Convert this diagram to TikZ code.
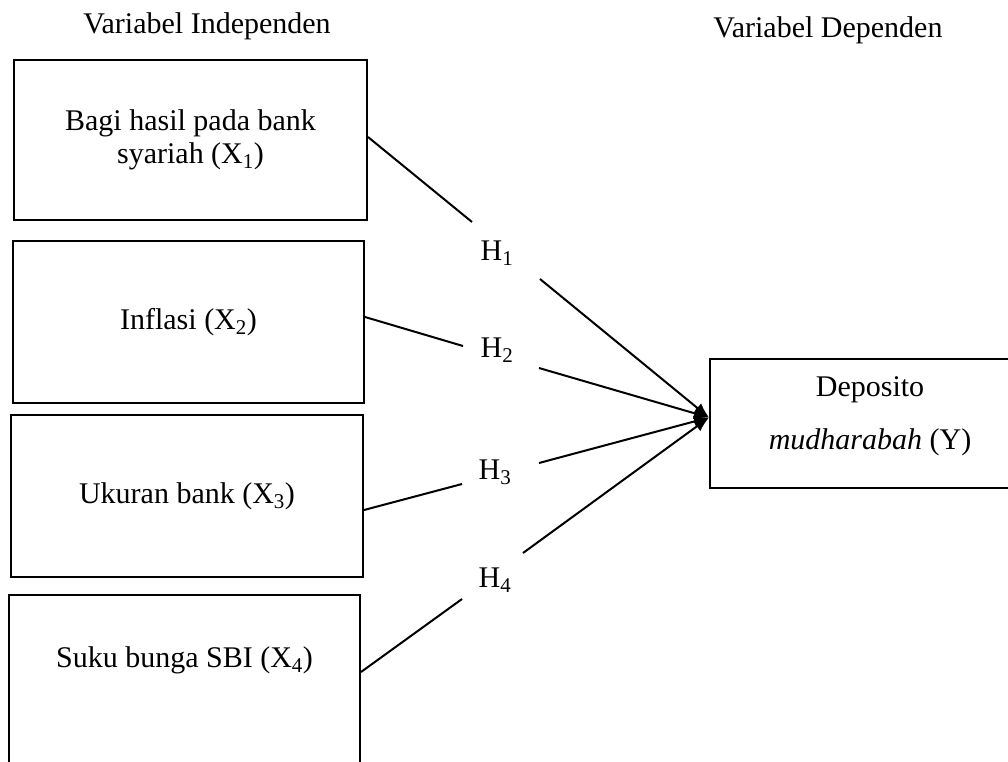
\documentclass[tikz,border=0pt]{standalone}
\usepackage{fontspec}
\setmainfont{Liberation Serif}
\usetikzlibrary{arrows.meta}
\tikzset{
  varbox/.style={draw, line width=2pt, inner sep=0pt, align=center,
    font=\fontsize{30}{33}\selectfont},
  hlabel/.style={inner sep=0pt, font=\fontsize{30}{33}\selectfont},
  title/.style={inner sep=0pt, anchor=base, font=\fontsize{30}{33}\selectfont},
  link/.style={line width=2pt},
  arrowlink/.style={line width=2pt, -{Latex[length=15pt,width=12pt]}},
}
\begin{document}
\begin{tikzpicture}[x=1pt, y=-1pt]
\useasboundingbox (0,0) rectangle (1008,761);
\clip (0,0) rectangle (1008,761);
% titles
\node[title] (ti) at (207,33) {Variabel Independen};
\node[title] (td) at (828,37) {Variabel Dependen};
% independent boxes
\node[varbox, minimum width=353pt, minimum height=160pt] (b1) at (190.5,140)
  {Bagi hasil pada bank\\syariah (X\textsubscript{1})};
\node[varbox, minimum width=351pt, minimum height=162pt] (b2) at (188.5,322)
  {Inflasi (X\textsubscript{2})};
\node[varbox, minimum width=352pt, minimum height=162pt] (b3) at (187,496)
  {Ukuran bank (X\textsubscript{3})};
\node[varbox, minimum width=351pt, minimum height=220pt] (b4) at (184.5,705) {};
\node[hlabel] (t4) at (184.5,660) {Suku bunga SBI (X\textsubscript{4})};
% dependent box
\node[varbox, minimum width=320pt, minimum height=129pt,
  font=\fontsize{30}{53}\selectfont] (dep) at (870,423.5)
  {Deposito\\\textit{mudharabah} (Y)\rule[-20pt]{0pt}{20pt}};
% hypothesis labels
\node[hlabel] (h1) at (497,253) {H\textsubscript{1}};
\node[hlabel] (h2) at (497,350) {H\textsubscript{2}};
\node[hlabel] (h3) at (495,472) {H\textsubscript{3}};
\node[hlabel] (h4) at (495,580) {H\textsubscript{4}};
% connector ends beside the labels
\coordinate (e1) at (472,222);
\coordinate (e2) at (463,346);
\coordinate (e3) at (462,484);
\coordinate (e4) at (462,599);
\coordinate (s1) at (540,279);
\coordinate (s2) at (539,368);
\coordinate (s3) at (539,463);
\coordinate (s4) at (523,553);
\coordinate (tip) at ([yshift=6pt]dep.west);
% box -> hypothesis
\draw[link] ([yshift=3pt]b1.east) -- (e1);
\draw[link] ([yshift=5pt]b2.east) -- (e2);
\draw[link] ([yshift=-14pt]b3.east) -- (e3);
\draw[link] ([yshift=33pt]b4.east) -- (e4);
% hypothesis -> dependent
\draw[arrowlink] (s1) -- (tip);
\draw[arrowlink] (s2) -- (tip);
\draw[arrowlink] (s3) -- (tip);
\draw[arrowlink] (s4) -- (tip);
\end{tikzpicture}
\end{document}
